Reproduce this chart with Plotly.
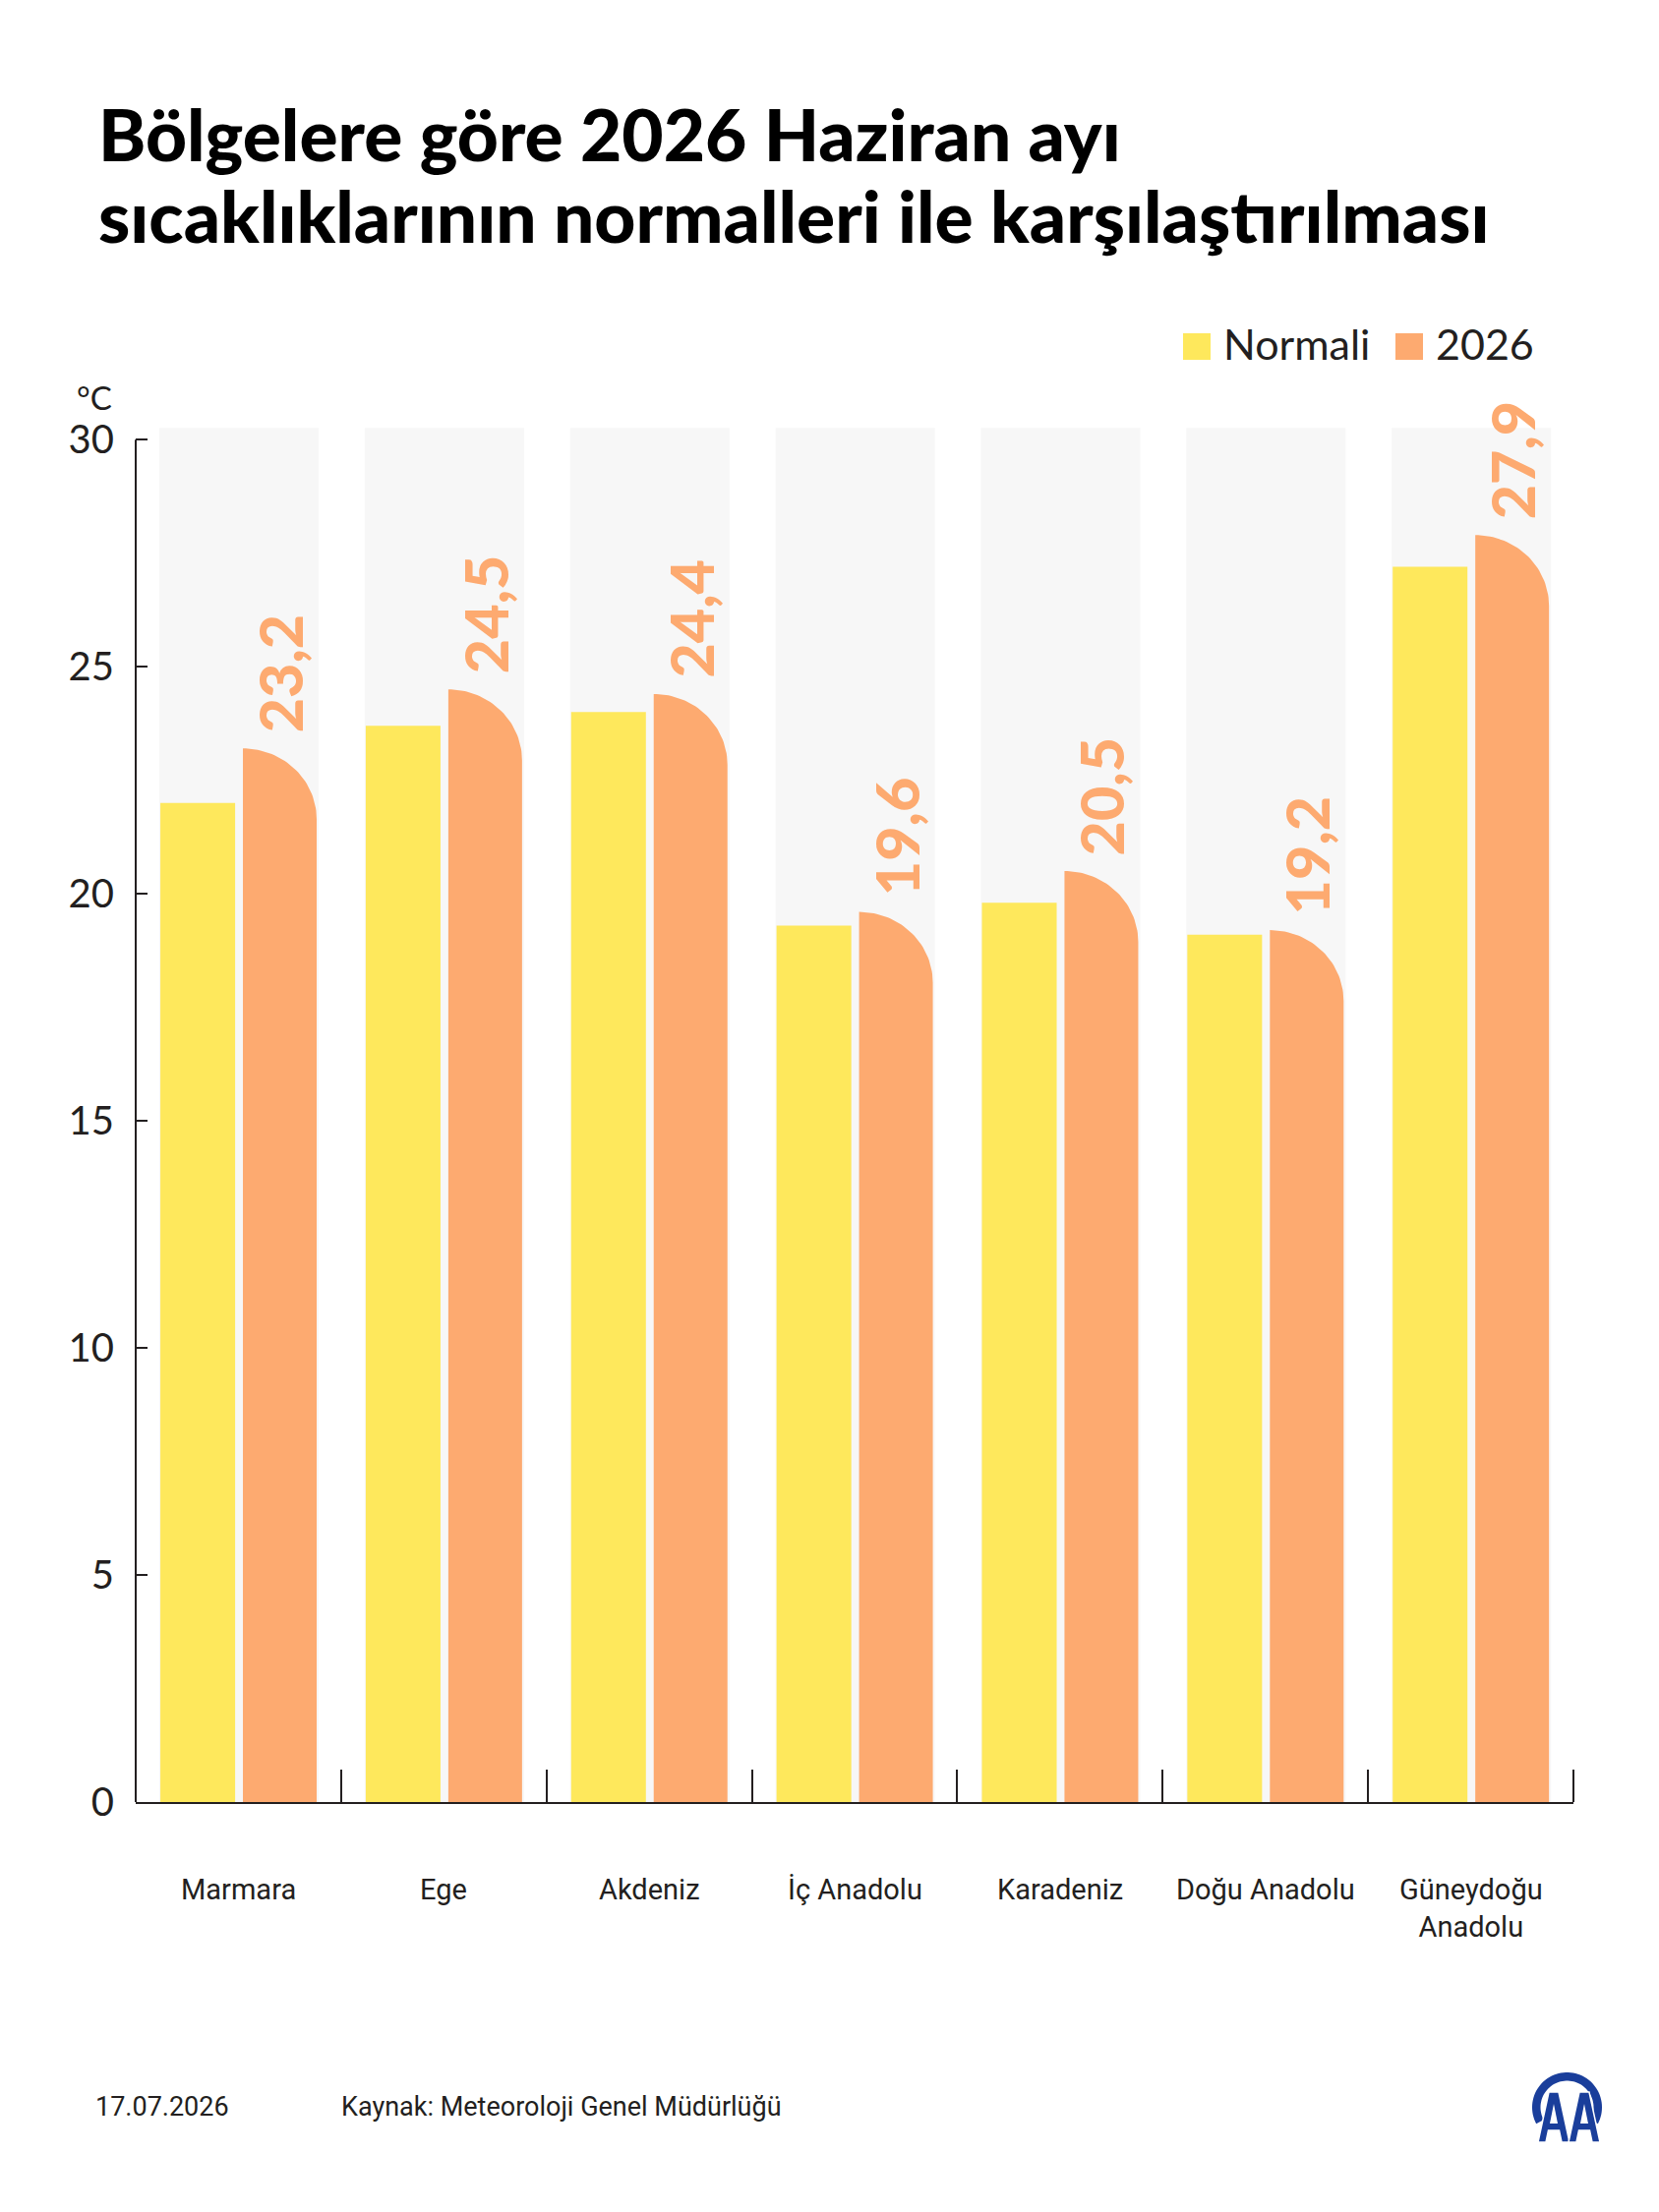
import numpy as np
import plotly.graph_objects as go

# ---------------- data ----------------
categories = ["Marmara", "Ege", "Akdeniz", "İç Anadolu", "Karadeniz", "Doğu Anadolu", "Güneydoğu<br>Anadolu"]
normali = [22.0, 23.7, 24.0, 19.3, 19.8, 19.1, 27.2]
y2026 = [23.2, 24.5, 24.4, 19.6, 20.5, 19.2, 27.9]
y_ticks = [0, 5, 10, 15, 20, 25, 30]
legend_names = ["Normali", "2026"]
title_lines = ["Bölgelere göre 2026 Haziran ayı", "sıcaklıklarının normalleri ile karşılaştırılması"]
unit_label = "°C"
date_text = "17.07.2026"
source_text = "Kaynak: Meteoroloji Genel Müdürlüğü"

# ---------------- style ----------------
W, H = 1687, 2250
ML, MR, MT, MB = 138, 87, 401, 417
PW, PH = W - ML - MR, H - MT - MB
YMAX = 31.0
GRAY_TOP = 30.26
YELLOW = "#FEE85C"
ORANGE = "#FDAA70"
GRAY = "#F7F7F7"
INK = "#231F20"
BLUE = "#1A3E9B"

def pxx(px):
    return (px - ML) / PW

def pxy(py):
    return (H - MB - py) / PH

x_idx = list(range(len(categories)))

fig = go.Figure()

# gray background columns
fig.add_trace(go.Bar(x=x_idx, y=[GRAY_TOP] * len(x_idx), width=0.776, offset=-0.385,
                     marker=dict(color=GRAY, line=dict(width=0)), hoverinfo="skip", showlegend=False))
# normal values
fig.add_trace(go.Bar(x=x_idx, y=normali, width=0.364, offset=-0.380, name=legend_names[0],
                     marker=dict(color=YELLOW, line=dict(width=0)), showlegend=False))

# 2026 values: bars with a rounded top-right corner
O_OFF, O_W = 0.022, 0.359
RY = 72 / 46.2
t = np.linspace(np.pi / 2, 0, 40)
xs, ys = [], []
for i, v in zip(x_idx, y2026):
    xl = i + O_OFF
    xs += [xl, xl]
    ys += [0, v]
    xs += list(xl + O_W * np.cos(t))
    ys += list(v - RY + RY * np.sin(t))
    xs += [xl + O_W, xl]
    ys += [0, 0]
    xs.append(None)
    ys.append(None)
fig.add_trace(go.Scatter(x=xs, y=ys, mode="lines", fill="toself", fillcolor=ORANGE,
                         line=dict(width=0, color=ORANGE), name=legend_names[1],
                         hoverinfo="skip", showlegend=False))

annotations = []
shapes = []

# value labels
for i, v in zip(x_idx, y2026):
    annotations.append(dict(x=i + O_OFF + O_W / 2, y=v, xref="x", yref="y",
                            text=f"{v:.1f}".replace(".", ","), showarrow=False,
                            textangle=-90, xanchor="center", yanchor="bottom", yshift=14,
                            font=dict(family="Lato", size=61, color=ORANGE, weight=900)))

# category labels
for i, c in zip(x_idx, categories):
    annotations.append(dict(x=i, y=0, xref="x", yref="y", text=c, showarrow=False,
                            xanchor="center", yanchor="top", yshift=-70,
                            font=dict(family="Roboto", size=29, color=INK)))

# y axis line (0..30)
shapes.append(dict(type="line", xref="paper", yref="y", x0=0, x1=0, y0=0, y1=y_ticks[-1],
                   line=dict(color=INK, width=2)))

# title
annotations.append(dict(x=pxx(98), y=pxy(136), xref="paper", yref="paper", text=title_lines[0],
                        showarrow=False, xanchor="left", yanchor="middle",
                        font=dict(family="Lato", size=73, color="#000000", weight=900)))
annotations.append(dict(x=pxx(98), y=pxy(219), xref="paper", yref="paper", text=title_lines[1],
                        showarrow=False, xanchor="left", yanchor="middle",
                        font=dict(family="Lato", size=73, color="#000000", weight=900)))

# legend
for (x0, col, name, tx) in [(1203, YELLOW, legend_names[0], 1242), (1419, ORANGE, legend_names[1], 1458)]:
    shapes.append(dict(type="rect", xref="paper", yref="paper", x0=pxx(x0), x1=pxx(x0 + 28),
                       y0=pxy(366), y1=pxy(339), fillcolor=col, line=dict(width=0)))
    annotations.append(dict(x=pxx(tx), y=pxy(350), xref="paper", yref="paper", text=name,
                            showarrow=False, xanchor="left", yanchor="middle",
                            font=dict(family="Lato", size=43, color=INK)))

# unit
annotations.append(dict(x=pxx(116), y=pxy(404), xref="paper", yref="paper", text=unit_label,
                        showarrow=False, xanchor="right", yanchor="middle",
                        font=dict(family="Lato", size=33, color=INK)))

# footer
annotations.append(dict(x=pxx(95), y=pxy(2143), xref="paper", yref="paper", text=date_text,
                        showarrow=False, xanchor="left", yanchor="middle",
                        font=dict(family="Roboto", size=27, color=INK)))
annotations.append(dict(x=pxx(345), y=pxy(2143), xref="paper", yref="paper", text=source_text,
                        showarrow=False, xanchor="left", yanchor="middle",
                        font=dict(family="Roboto", size=27, color=INK)))

# AA logo (arch + two A letters)
cx, cy, ro, ri = 1593.5, 2143.5, 35.5, 27.0
ang = np.linspace(np.radians(-28), np.radians(208), 60)
outer = [(cx + ro * np.cos(a), cy - ro * np.sin(a)) for a in ang]
inner = [(cx + ri * np.cos(a), cy - ri * np.sin(a)) for a in ang[::-1]]
pts = outer + inner
path = "M " + " L ".join(f"{pxx(p[0]):.5f},{pxy(p[1]):.5f}" for p in pts) + " Z"
shapes.append(dict(type="path", xref="paper", yref="paper", path=path,
                   fillcolor=BLUE, line=dict(width=0)))

def poly(points):
    return "M " + " L ".join(f"{pxx(a):.5f},{pxy(b):.5f}" for a, b in points) + " Z"

for ax0 in (1564, 1595):
    a_pts = [(ax0, 2179), (ax0 + 11, 2128), (ax0 + 21, 2128), (ax0 + 32, 2179),
             (ax0 + 24, 2179), (ax0 + 21.5, 2167), (ax0 + 10.5, 2167), (ax0 + 8, 2179)]
    shapes.append(dict(type="path", xref="paper", yref="paper", path=poly(a_pts),
                       fillcolor=BLUE, line=dict(color="white", width=1.5)))
    hole = [(ax0 + 12, 2160), (ax0 + 16, 2140), (ax0 + 20, 2160)]
    shapes.append(dict(type="path", xref="paper", yref="paper", path=poly(hole),
                       fillcolor="white", line=dict(width=0)))

fig.update_layout(
    width=W, height=H,
    margin=dict(l=ML, r=MR, t=MT, b=MB, autoexpand=False),
    paper_bgcolor="white", plot_bgcolor="white",
    barmode="overlay",
    showlegend=False,
    annotations=annotations,
    shapes=shapes,
    xaxis=dict(range=[-0.5, len(categories) - 0.5], showgrid=False, zeroline=False,
               showline=True, linecolor=INK, linewidth=2, tickvals=x_idx, showticklabels=False,
               ticks="", fixedrange=True,
               minor=dict(ticks="inside", ticklen=33, tickwidth=2, tickcolor=INK,
                          tickmode="linear", tick0=0.5, dtick=1, showgrid=False)),
    yaxis=dict(range=[0, YMAX], showgrid=False, zeroline=False, showline=False,
               tickmode="array", tickvals=y_ticks, ticktext=[str(v) for v in y_ticks],
               ticks="inside", ticklen=12, tickwidth=2, tickcolor=INK,
               ticklabelstandoff=21,
               tickfont=dict(family="Lato", size=40, color=INK), fixedrange=True),
)

fig.write_html("out.html")
